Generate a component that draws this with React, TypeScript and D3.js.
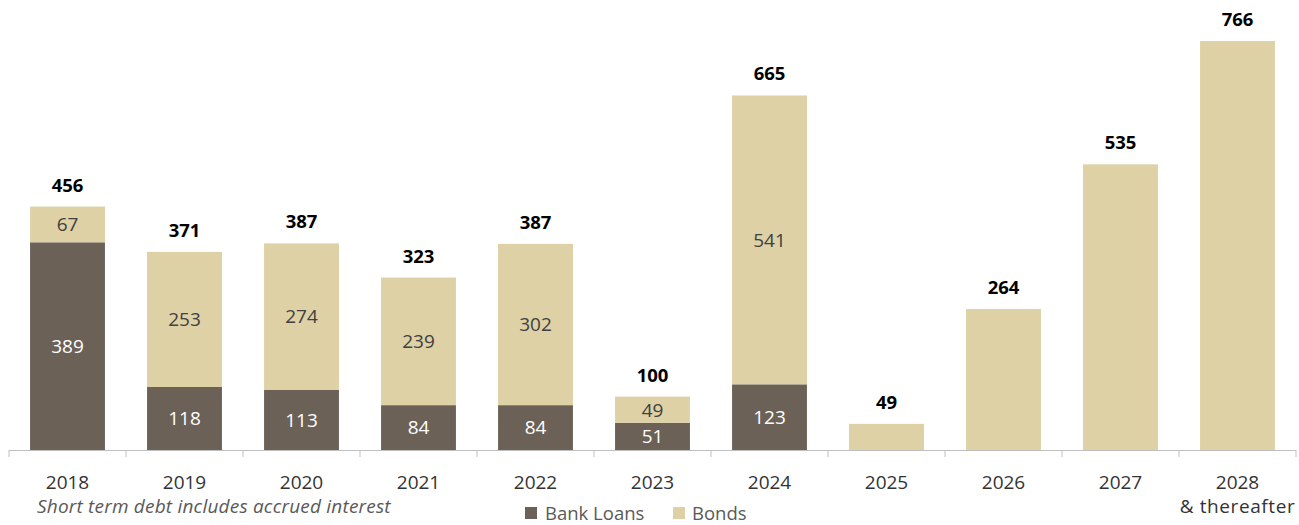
import * as d3 from "d3";

const WIDTH = 1299;
const HEIGHT = 525;

const years = ["2018", "2019", "2020", "2021", "2022", "2023", "2024", "2025", "2026", "2027", "2028"];
const yearNotes = ["", "", "", "", "", "", "", "", "", "", "& thereafter"];
const bankLoans = [389, 118, 113, 84, 84, 51, 123, 0, 0, 0, 0];
const bonds = [67, 253, 274, 239, 302, 49, 541, 49, 264, 535, 766];
const totals = [456, 371, 387, 323, 387, 100, 665, 49, 264, 535, 766];

const DARK = "#6b6157";
const LIGHT = "#dfd1a6";
const FONT = "'Open Sans', 'Noto Sans', sans-serif";

const x = d3
  .scaleBand<string>()
  .domain(years)
  .range([9, 1296])
  .paddingInner(0.36)
  .paddingOuter(0.18);

const y = d3.scaleLinear().domain([0, 766]).range([450, 41]);

export default function App() {
  const step = x.step();
  const bw = x.bandwidth();
  const boundaries = d3.range(years.length + 1).map((i) => 9 + i * step);

  return (
    <svg width={WIDTH} height={HEIGHT} style={{ position: "absolute", left: 0, top: 0 }} fontFamily={FONT}>
      {years.map((yr, i) => {
        const bx = x(yr)!;
        const loanTop = y(bankLoans[i]);
        const bondTop = y(bankLoans[i] + bonds[i]);
        const cx = bx + bw / 2;
        return (
          <g key={yr}>
            {bankLoans[i] > 0 && (
              <rect x={bx} y={loanTop} width={bw} height={y(0) - loanTop} fill={DARK} />
            )}
            <rect x={bx} y={bondTop} width={bw} height={loanTop - bondTop} fill={LIGHT} />
            {bankLoans[i] > 0 && (
              <text x={cx} y={(loanTop + y(0)) / 2} dy="0.36em" textAnchor="middle" fontSize={19} fill="#ffffff">
                {bankLoans[i]}
              </text>
            )}
            {bankLoans[i] > 0 && (
              <text x={cx} y={(bondTop + loanTop) / 2} dy="0.36em" textAnchor="middle" fontSize={19} fill="#404040">
                {bonds[i]}
              </text>
            )}
            <text x={cx} y={bondTop - 15} textAnchor="middle" fontSize={18.5} fontWeight="bold" fill="#000">
              {totals[i]}
            </text>
            <text x={cx} y={489} textAnchor="middle" fontSize={19} fill="#333">
              {yr}
              {yearNotes[i] && (
                <tspan x={cx} dy={24} letterSpacing={0.6}>
                  {yearNotes[i]}
                </tspan>
              )}
            </text>
          </g>
        );
      })}
      <line x1={9} x2={1296} y1={450.5} y2={450.5} stroke="#bfbfbf" strokeWidth={1} />
      {boundaries.map((b, i) => (
        <line key={i} x1={b} x2={b} y1={450} y2={457} stroke="#bfbfbf" strokeWidth={1} />
      ))}
      <text x={37} y={513} fontSize={19} letterSpacing={0.2} fontStyle="italic" fill="#595959">
        Short term debt includes accrued interest
      </text>
      <rect x={525} y={507} width={12} height={12} fill={DARK} />
      <text x={545} y={520} fontSize={18.5} fill="#595959">
        Bank Loans
      </text>
      <rect x={673} y={507} width={12} height={12} fill={LIGHT} />
      <text x={692} y={520} fontSize={18.5} fill="#595959">
        Bonds
      </text>
    </svg>
  );
}
